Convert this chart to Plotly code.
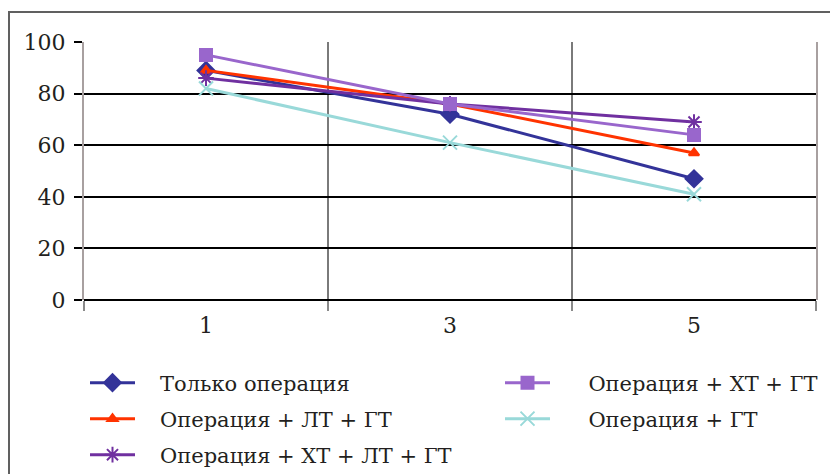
import plotly.graph_objects as go

# Years of follow-up and survival (%) by treatment arm
years = ["1", "3", "5"]

surgery_only = [89, 72, 47]
surgery_lt_gt = [89, 76, 57]
surgery_ct_lt_gt = [86, 76, 69]
surgery_ct_gt = [95, 76, 64]
surgery_gt = [82, 61, 41]

names = [
    "Только операция",
    "Операция + ЛТ + ГТ",
    "Операция + ХТ + ЛТ + ГТ",
    "Операция + ХТ + ГТ",
    "Операция + ГТ",
]

FONT = "DejaVu Serif"
TEXT = "#231f20"
NBSP = "\u00a0"

W, H = 830, 474
L, R, T, B = 84, 14, 42, 174

pw = W - L - R
ph = H - T - B


def px_x(x):
    return (x - L) / pw


def px_y(y):
    return 1 - (y - T) / ph


# (values, colour, marker, marker size, legend column x, row y, pad)
series = [
    (surgery_only, "#333399", "diamond", 13, 85, 383, 3),
    (surgery_lt_gt, "#ff3300", "triangle-up", 9, 85, 419, 3),
    (surgery_ct_lt_gt, "#7030a0", "asterisk-open", 13, 85, 455, 3),
    (surgery_ct_gt, "#9966cc", "square", 12, 500, 383, 5),
    (surgery_gt, "#99d9d9", "x-thin-open", 14, 500, 419, 5),
]

fig = go.Figure()
legends = {}

for i, ((vals, color, symbol, size, lx, ly, pad), name) in enumerate(zip(series, names)):
    leg = "legend" if i == 0 else f"legend{i + 1}"
    fig.add_trace(go.Scatter(
        x=years, y=vals, name=NBSP * pad + name, mode="lines+markers",
        line=dict(color=color, width=3),
        marker=dict(symbol=symbol, size=size, color=color,
                    line=dict(color=color, width=2)),
        legend=leg,
    ))
    legends[leg] = dict(
        x=px_x(lx), y=px_y(ly), xanchor="left", yanchor="middle",
        font=dict(family=FONT, size=21, color=TEXT),
        bgcolor="rgba(0,0,0,0)", itemwidth=45, borderwidth=0,
    )

fig.update_layout(
    width=W, height=H,
    margin=dict(l=L, r=R, t=T, b=B, autoexpand=False),
    paper_bgcolor="white", plot_bgcolor="white",
    font=dict(family=FONT, size=22, color=TEXT),
    showlegend=True,
    xaxis=dict(
        type="category", categoryorder="array", categoryarray=years,
        range=[-0.5, 2.5], autorange=False,
        tickson="boundaries", ticks="outside", ticklen=10,
        tickcolor="#8a8a8a", tickwidth=2,
        showgrid=True, gridcolor="#7a7a7a", gridwidth=1.5,
        showline=False, zeroline=False, ticklabelstandoff=10,
        tickfont=dict(family=FONT, size=22, color=TEXT),
    ),
    yaxis=dict(
        range=[0, 100], dtick=20, tick0=0,
        showgrid=True, gridcolor="black", gridwidth=2,
        zeroline=True, zerolinecolor="black", zerolinewidth=2,
        showline=True, linecolor="#a8a0a0", linewidth=2, mirror=True,
        ticks="outside", ticklen=8, tickcolor="black", tickwidth=2,
        ticklabelstandoff=4,
        tickfont=dict(family=FONT, size=22, color=TEXT),
    ),
    **legends,
)

# Outer chart frame
fig.add_shape(
    type="rect", xref="paper", yref="paper",
    x0=px_x(9), x1=px_x(W + 10), y0=px_y(H + 10), y1=px_y(12),
    line=dict(color="#606060", width=2), fillcolor="rgba(0,0,0,0)",
    layer="below",
)

fig.write_html("out.html")
